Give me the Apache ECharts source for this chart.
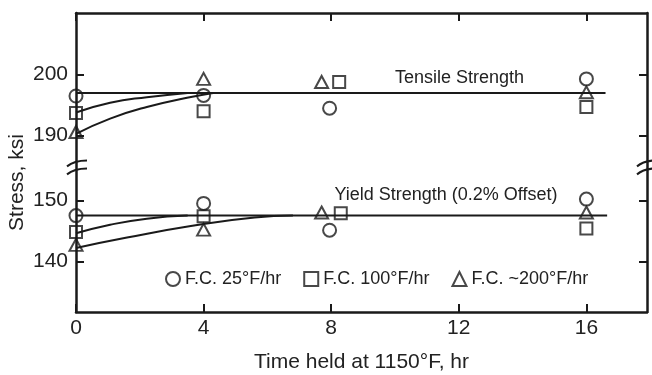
<!DOCTYPE html>
<html>
<head>
<meta charset="utf-8">
<script src="https://cdn.jsdelivr.net/npm/echarts@6/dist/echarts.min.js"></script>
<style>
  html, body { margin: 0; padding: 0; background: #fff; }
  #chart { width: 652px; height: 375px; }
</style>
</head>
<body>
<div id="chart"></div>
<script>
// values (time in hr, stress in ksi)
var seriesNames = ["F.C. 25°F/hr", "F.C. 100°F/hr", "F.C. ~200°F/hr"];
var seriesSymbols = ["circle", "rect", "triangle"];

var fc25Tensile = [[0, 196.5], [4, 196.6], [7.95, 194.5], [16, 199.3]];
var fc100Tensile = [[0, 193.7], [4, 194.0], [8.25, 198.8], [16, 194.7]];
var fc200Tensile = [[0, 190.6], [4, 199.3], [7.7, 198.8], [16, 197.1]];

var fc25Yield = [[0, 147.5], [4, 149.5], [7.95, 145.1], [16, 150.2]];
var fc100Yield = [[0, 144.8], [4, 147.4], [8.3, 147.9], [16, 145.4]];
var fc200Yield = [[0, 142.7], [4, 145.2], [7.7, 148.0], [16, 148.0]];

// fitted lines drawn in the figure
var tensileLine = [[0, 197.0], [16.6, 197.0]];
var yieldLine = [[0, 147.5], [16.65, 147.5]];
var tensileCurve100 = [[0, 193.8], [1.07, 195.4], [2.22, 196.3], [3.5, 197.0]];
var tensileCurve200 = [[0, 190.3], [1.07, 192.8], [2.22, 194.7], [3.48, 196.2], [4.3, 197.0]];
var yieldCurve100 = [[0, 144.6], [1.07, 146.0], [2.22, 147.0], [3.5, 147.5]];
var yieldCurve200 = [[0, 142.2], [1.6, 143.9], [3.6, 145.8], [5.6, 147.2], [6.8, 147.5]];

var xTicks = [0, 4, 8, 12, 16];
var yTicks = [140, 150, 190, 200];

// broken y axis: the upper band (190-200) is shifted down next to the lower one
var Y_SHIFT = 29.4;
function T(v) { return v > 170 ? v - Y_SHIFT : v; }
function untransform(v) { return v > 155 ? Math.round(v + Y_SHIFT) : Math.round(v); }
function mapPts(arr) { return arr.map(function (p) { return [p[0], T(p[1])]; }); }

var FONT = "Liberation Sans, Arial, sans-serif";
var INK = "#1a1a1a";
var TEXT = "#222";

var gridBox = { left: 76, top: 13, width: 571, height: 299 };

var chart = echarts.init(document.getElementById("chart"));

var scatterData = [
  fc25Tensile.concat(fc25Yield),
  fc100Tensile.concat(fc100Yield),
  fc200Tensile.concat(fc200Yield)
];
var symbolSizes = [13, 12, [13, 12]];

var series = [];
[tensileLine, yieldLine, tensileCurve100, tensileCurve200, yieldCurve100, yieldCurve200].forEach(function (d, i) {
  series.push({
    type: "line",
    data: mapPts(d),
    smooth: i > 1 ? 0.5 : false,
    symbol: "none",
    silent: true,
    lineStyle: { color: INK, width: 2 },
    z: 2
  });
});
seriesNames.forEach(function (name, i) {
  series.push({
    type: "scatter",
    name: name,
    data: mapPts(scatterData[i]),
    symbol: seriesSymbols[i],
    symbolSize: symbolSizes[i],
    itemStyle: { color: "transparent", borderColor: INK, borderWidth: 2 },
    z: 3
  });
});

var yTickVals = yTicks.map(T);

function frameAxis(extra) {
  var base = {
    type: "value",
    axisLine: { show: true, onZero: false, lineStyle: { color: INK, width: 2.5 } },
    splitLine: { show: false }
  };
  return Object.assign(base, extra);
}

var option = {
  animation: false,
  backgroundColor: "#fff",
  grid: {
    left: gridBox.left, top: gridBox.top, width: gridBox.width, height: gridBox.height,
    outerBoundsMode: "none"
  },
  legend: {
    data: seriesNames,
    left: 160,
    top: 265,
    itemWidth: 14,
    itemHeight: 14,
    itemGap: 22,
    textStyle: { fontSize: 18, color: TEXT, fontFamily: FONT }
  },
  xAxis: [
    frameAxis({
      position: "bottom", min: 0, max: 17.9,
      axisTick: { show: true, inside: true, length: 8, customValues: xTicks, lineStyle: { color: INK, width: 2 } },
      axisLabel: { customValues: xTicks, fontSize: 21, color: TEXT, fontFamily: FONT, margin: 6 },
      name: "Time held at 1150°F, hr",
      nameLocation: "middle",
      nameGap: 40,
      nameTextStyle: { fontSize: 21, color: TEXT, fontFamily: FONT }
    }),
    frameAxis({
      position: "top", min: 0, max: 17.9,
      axisTick: { show: true, inside: true, length: 8, customValues: xTicks, lineStyle: { color: INK, width: 2 } },
      axisLabel: { show: false }
    })
  ],
  yAxis: [
    frameAxis({
      position: "left", min: 131.7, max: 180.7,
      axisTick: { show: true, inside: true, length: 8, customValues: yTickVals, lineStyle: { color: INK, width: 2 } },
      axisLabel: {
        customValues: yTickVals, fontSize: 21, color: TEXT, fontFamily: FONT, margin: 8,
        formatter: function (v) { return String(untransform(v)); }
      }
    }),
    frameAxis({
      position: "right", min: 131.7, max: 180.7,
      axisTick: { show: true, inside: true, length: 8, customValues: yTickVals, lineStyle: { color: INK, width: 2 } },
      axisLabel: { show: false }
    })
  ],
  series: series
};

chart.setOption(option);

// annotations, axis title and the axis break marks
var tensilePos = chart.convertToPixel({ gridIndex: 0 }, [10, T(199.5)]);
var yieldPos = chart.convertToPixel({ gridIndex: 0 }, [8.1, 150.9]);
var breakY = chart.convertToPixel({ gridIndex: 0 }, [0, 155.4])[1];

function breakMark(cx) {
  return [-4, 4].map(function (dy) {
    return {
      type: "bezierCurve",
      shape: {
        x1: cx - 10, y1: breakY + dy + 3,
        cpx1: cx - 3, cpy1: breakY + dy - 3,
        x2: cx + 10, y2: breakY + dy - 3
      },
      style: { stroke: INK, lineWidth: 2, fill: null },
      z: 10
    };
  });
}

chart.setOption({
  graphic: [
    {
      type: "text", x: tensilePos[0], y: tensilePos[1],
      style: { text: "Tensile Strength", font: "18px " + FONT, fill: TEXT, textAlign: "left", textVerticalAlign: "middle" }
    },
    {
      type: "text", x: yieldPos[0], y: yieldPos[1],
      style: { text: "Yield Strength (0.2% Offset)", font: "18px " + FONT, fill: TEXT, textAlign: "left", textVerticalAlign: "middle" }
    },
    {
      type: "text", x: 17.5, y: 182.5, rotation: Math.PI / 2,
      style: { text: "Stress, ksi", font: "21px " + FONT, fill: TEXT, textAlign: "center", textVerticalAlign: "middle" }
    }
  ].concat(breakMark(gridBox.left + 1), breakMark(gridBox.left + gridBox.width))
});
</script>
</body>
</html>
